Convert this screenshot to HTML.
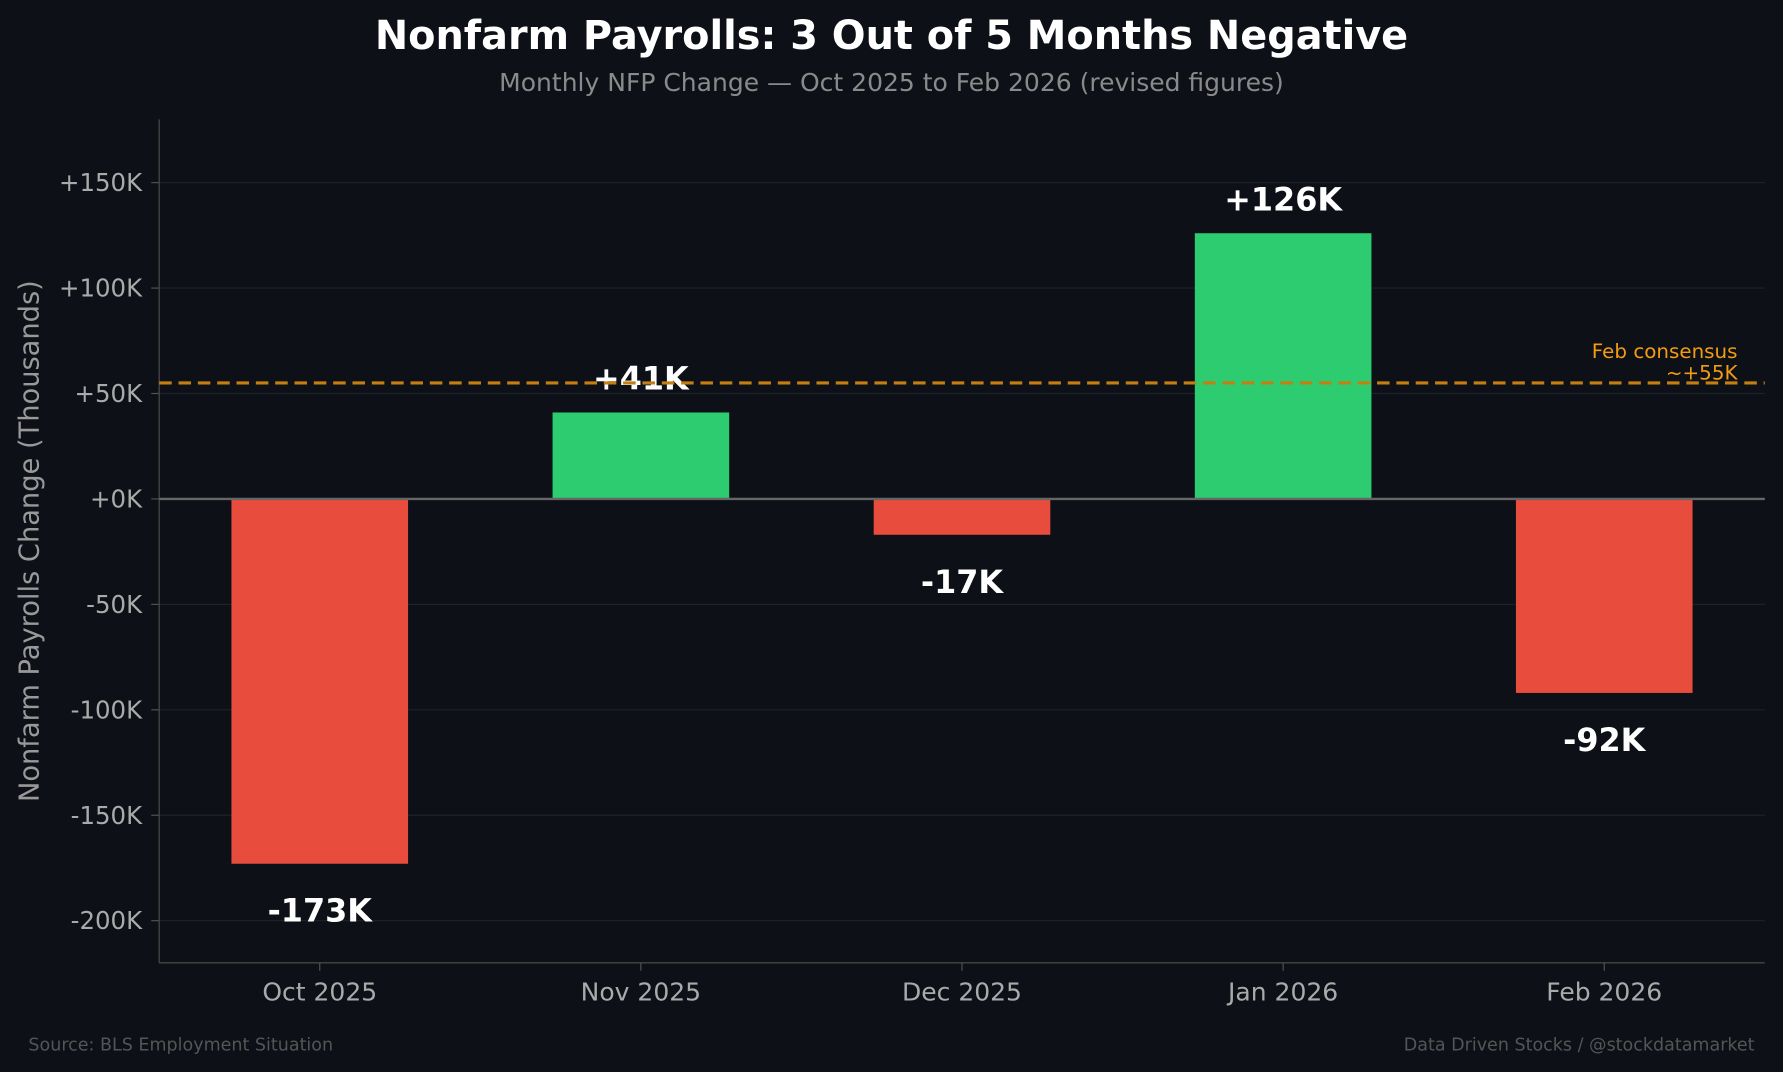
<!DOCTYPE html>
<html><head><meta charset="utf-8"><style>
html,body{margin:0;padding:0;background:#0d1017;}
svg{display:block;font-family:"DejaVu Sans","Liberation Sans",sans-serif;}
</style></head><body>
<svg id="chart" width="1783" height="1072" viewBox="0 0 1568 943" preserveAspectRatio="none">
<rect x="0" y="0" width="1568" height="943" fill="#0d1017"/>
<text x="784" y="43" text-anchor="middle" fill="#ffffff" font-size="35" font-weight="bold">Nonfarm Payrolls: 3 Out of 5 Months Negative</text>
<text x="784" y="80" text-anchor="middle" fill="#8a8a8a" font-size="22">Monthly NFP Change — Oct 2025 to Feb 2026 (revised figures)</text>
<g id="grid"></g>
<g id="yticks"></g>
<g id="bars"></g>
<g id="xticks"></g>
<text x="0" y="0" transform="translate(34,476) rotate(-90)" text-anchor="middle" fill="#999" font-size="24">Nonfarm Payrolls Change (Thousands)</text>
<text x="25" y="924" fill="#555" font-size="15.4">Source: BLS Employment Situation</text>
<text x="1543" y="924" text-anchor="end" fill="#555" font-size="15.4">Data Driven Stocks / @stockdatamarket</text>
</svg>
<script>
const categories = ["Oct 2025","Nov 2025","Dec 2025","Jan 2026","Feb 2026"];
const values = [-173, 41, -17, 126, -92];
const valueLabels = ["-173K","+41K","-17K","+126K","-92K"];
const yTicks = [-200,-150,-100,-50,0,50,100,150];
const yTickLabels = ["-200K","-150K","-100K","-50K","+0K","+50K","+100K","+150K"];
const consensus = 55;
const consensusLabel = ["Feb consensus","~+55K"];

const NS="http://www.w3.org/2000/svg";
const L=140,R=1552,T=105,B=847,YMIN=-220,YMAX=180,XMIN=-0.5,XMAX=4.5,BW=0.55;
const y=v=>T+(YMAX-v)/(YMAX-YMIN)*(B-T);
const x=i=>L+(i-XMIN)/(XMAX-XMIN)*(R-L);
function mk(tag,attrs,parent){const e=document.createElementNS(NS,tag);for(const k in attrs)e.setAttribute(k,attrs[k]);parent.appendChild(e);return e;}
const grid=document.getElementById('grid'),yt=document.getElementById('yticks'),bars=document.getElementById('bars'),xt=document.getElementById('xticks');
yTicks.forEach((t,i)=>{
  const g=mk('line',{x1:L,x2:R,y1:y(t),y2:y(t),stroke:'#1e2228','stroke-width':1},grid);
  
  
  const tk=mk('line',{x1:L-7,x2:L,y1:y(t),y2:y(t),stroke:'#555','stroke-width':1},yt);
  
  
  const tl=mk('text',{x:L-15,y:y(t)+7.5,'text-anchor':'end',fill:'#aaa','font-size':21.5},yt);
  tl.textContent=yTickLabels[i];
  
  
});
const axL=mk('line',{x1:L,x2:L,y1:T,y2:B,stroke:'#444','stroke-width':1.2},yt);


const axB=mk('line',{x1:L,x2:R,y1:B,y2:B,stroke:'#444','stroke-width':1.2},xt);


values.forEach((v,i)=>{
  const x0=x(i-BW/2),x1=x(i+BW/2);
  const top=y(Math.max(v,0)),bot=y(Math.min(v,0));
  const r=mk('rect',{x:x0,y:top,width:x1-x0,height:bot-top,fill:v>=0?'#2ecc71':'#e74c3c'},bars);
  
  
  const ly=v>=0?y(v)-20:y(v)+51;
  const t=mk('text',{x:x(i),y:ly,'text-anchor':'middle',fill:'#fff','font-size':28,'font-weight':'bold'},bars);
  t.textContent=valueLabels[i];
  
  
  const tk=mk('line',{x1:x(i),x2:x(i),y1:B,y2:B+7,stroke:'#555','stroke-width':1},xt);
  
  
  const tl=mk('text',{x:x(i),y:B+33,'text-anchor':'middle',fill:'#aaa','font-size':22},xt);
  tl.textContent=categories[i];
  
  
});
const zl=mk('line',{x1:L,x2:R,y1:y(0),y2:y(0),stroke:'#666','stroke-width':2},bars);


const cl=mk('line',{x1:L,x2:R,y1:y(consensus),y2:y(consensus),stroke:'#c47f10','stroke-width':2.8,'stroke-dasharray':'11,6'},bars);


consensusLabel.forEach((s,k)=>{
  const t=mk('text',{x:1528,y:y(consensus)-22+k*19,'text-anchor':'end',fill:'#f39c12','font-size':17.5},bars);
  t.textContent=s;
  
  
});
</script>
</body></html>
